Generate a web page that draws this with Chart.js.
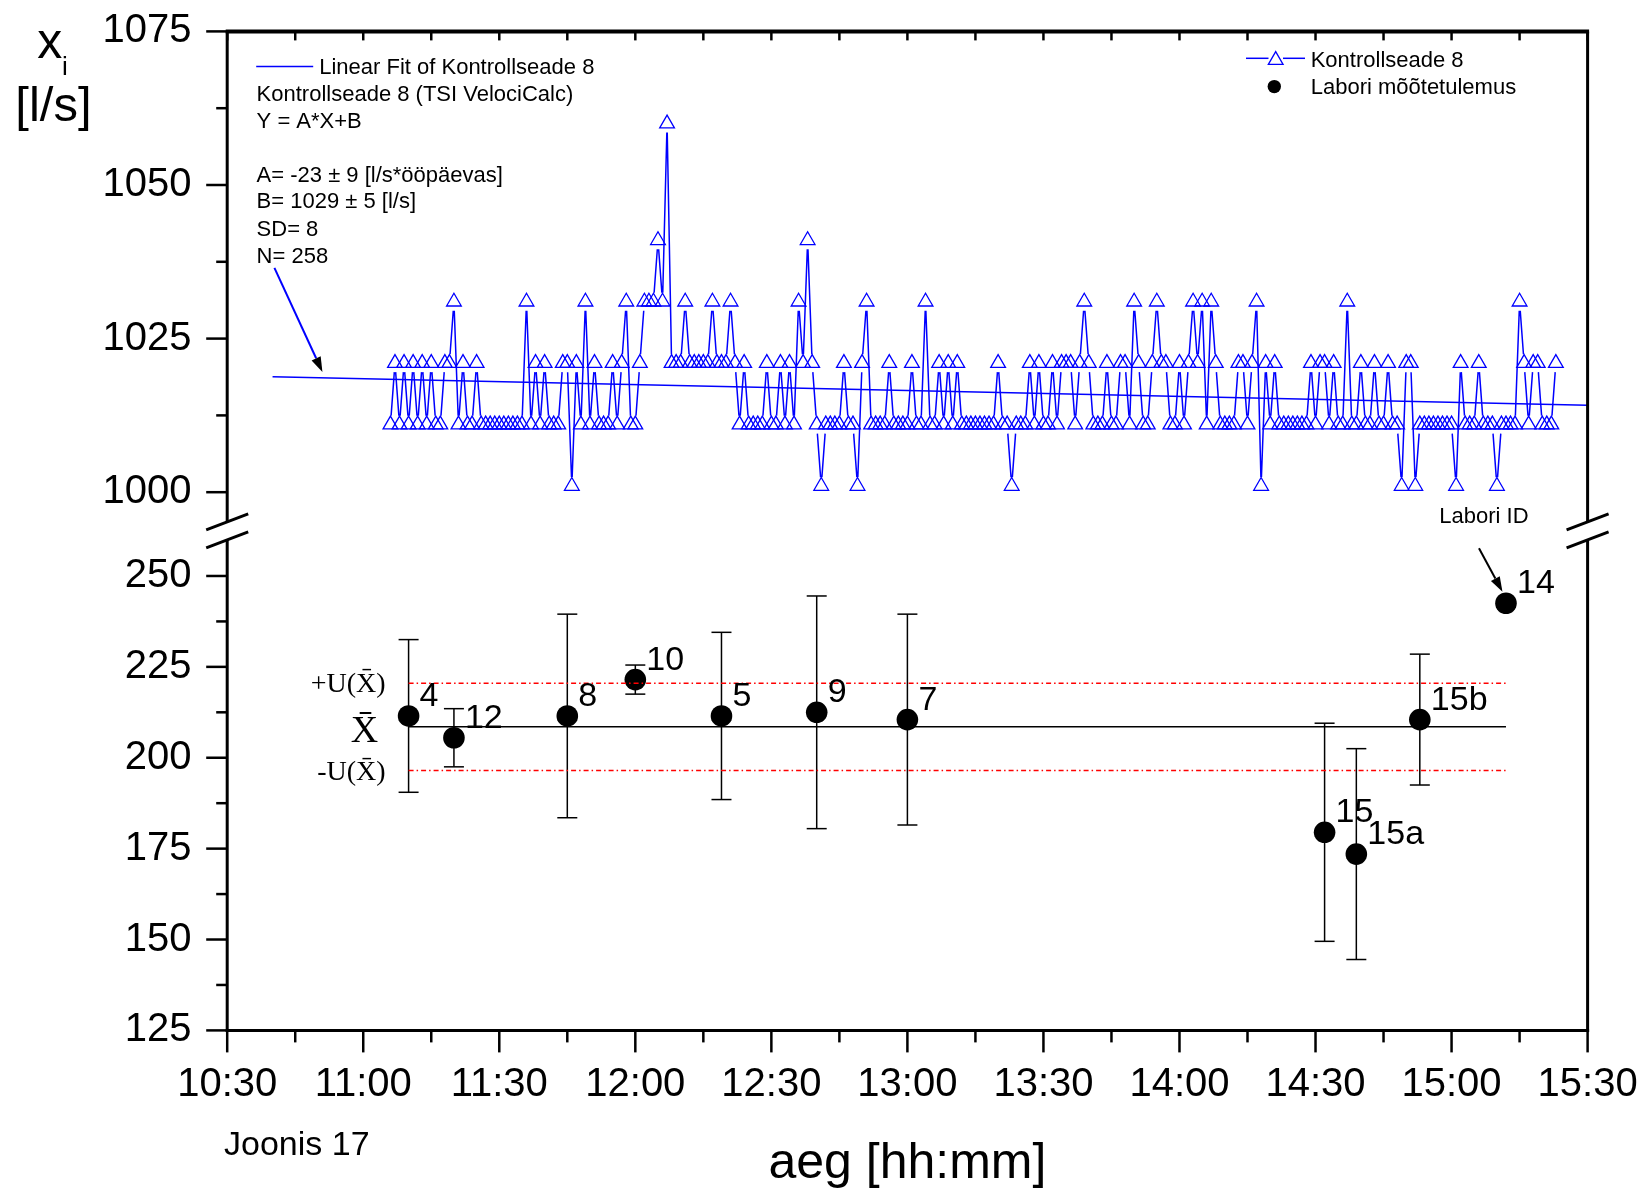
<!DOCTYPE html>
<html>
<head>
<meta charset="utf-8">
<script src="https://cdn.jsdelivr.net/npm/chart.js@4/dist/chart.umd.min.js"></script>
<style>
  html, body { margin: 0; padding: 0; background: #fff; }
  #wrap { width: 1642px; height: 1190px; }
</style>
</head>
<body>
<div id="wrap"><canvas id="chart" width="1642" height="1190"></canvas></div>
<script>
// Kontrollseade 8 (TSI VelociCalc), one reading per minute
const kontrollStart = '11:06';
const kontrollValues = [
  1011, 1021, 1011, 1021, 1011, 1021, 1011, 1021, 1011, 1021,
  1011, 1011, 1021, 1021, 1031, 1011, 1021, 1011, 1011, 1021,
  1011, 1011, 1011, 1011, 1011, 1011, 1011, 1011, 1011, 1011,
  1031, 1011, 1021, 1011, 1021, 1011, 1011, 1011, 1021, 1021,
  1001, 1021, 1011, 1031, 1011, 1021, 1011, 1011, 1011, 1021,
  1011, 1021, 1031, 1011, 1011, 1021, 1031, 1031, 1031, 1041,
  1031, 1060, 1021, 1021, 1021, 1031, 1021, 1021, 1021, 1021,
  1021, 1031, 1021, 1021, 1021, 1031, 1021, 1011, 1021, 1011,
  1011, 1011, 1011, 1021, 1011, 1011, 1021, 1011, 1021, 1011,
  1031, 1021, 1041, 1021, 1011, 1001, 1011, 1011, 1011, 1011,
  1021, 1011, 1011, 1001, 1021, 1031, 1011, 1011, 1011, 1011,
  1021, 1011, 1011, 1011, 1011, 1021, 1011, 1011, 1031, 1011,
  1011, 1021, 1011, 1021, 1011, 1021, 1011, 1011, 1011, 1011,
  1011, 1011, 1011, 1011, 1021, 1011, 1011, 1001, 1011, 1011,
  1011, 1021, 1011, 1021, 1011, 1011, 1021, 1011, 1021, 1021,
  1021, 1011, 1021, 1031, 1021, 1011, 1011, 1011, 1021, 1011,
  1011, 1021, 1021, 1011, 1031, 1021, 1011, 1011, 1021, 1031,
  1021, 1021, 1011, 1011, 1021, 1011, 1021, 1031, 1021, 1031,
  1011, 1031, 1021, 1011, 1011, 1011, 1011, 1021, 1021, 1011,
  1021, 1031, 1001, 1021, 1011, 1021, 1011, 1011, 1011, 1011,
  1011, 1011, 1011, 1021, 1011, 1021, 1021, 1011, 1021, 1011,
  1011, 1031, 1011, 1011, 1021, 1011, 1011, 1021, 1011, 1011,
  1021, 1011, 1011, 1001, 1021, 1021, 1001, 1011, 1011, 1011,
  1011, 1011, 1011, 1011, 1011, 1001, 1021, 1011, 1011, 1011,
  1021, 1011, 1011, 1011, 1001, 1011, 1011, 1011, 1011, 1031,
  1021, 1011, 1021, 1021, 1011, 1011, 1011, 1021
];

// linear fit Y = A*X + B, X in days
const fitA = -23;
const fitB = 1029;
const fitRange = ['10:40', '15:30'];

// laboratory results with expanded uncertainty
const labIds = ['4', '12', '8', '10', '5', '9', '7', '15', '15a', '15b', '14'];
const labTimes = ['11:10', '11:20', '11:45', '12:00', '12:19', '12:40', '13:00', '14:32', '14:39', '14:53', '15:12'];
const labValues = [211.5, 205.5, 211.5, 221.5, 211.5, 212.5, 210.5, 179.5, 173.5, 210.5, 242.5];
const labU = [21, 8, 28, 4, 23, 32, 29, 30, 29, 18, null];

// mean of the lab results and its uncertainty
const meanX = 208.5;
const meanU = 12;

const xTicks = ['10:30', '11:00', '11:30', '12:00', '12:30', '13:00', '13:30', '14:00', '14:30', '15:00', '15:30'];
const topTicks = [1000, 1025, 1050, 1075];
const bottomTicks = [125, 150, 175, 200, 225, 250];

const SANS = "'Liberation Sans', Arial, sans-serif";
const SERIF = "'Liberation Serif', 'Times New Roman', serif";
const BLUE = '#0000ff';
const GAP = 9;        // gap between symbol and connecting line
const CAP = 10;       // half width of error bar caps
const BREAK_GAP = 9;  // half height of the axis break

function toMin(t) {
  const [h, m] = t.split(':').map(Number);
  return h * 60 + m;
}

function fmtMin(v) {
  const h = Math.floor(v / 60);
  const m = Math.round(v - h * 60);
  return h + ':' + String(m).padStart(2, '0');
}

function withMinors(major) {
  const out = [];
  major.forEach((v, i) => {
    out.push(v);
    if (i < major.length - 1) out.push((v + major[i + 1]) / 2);
  });
  return out;
}

const kontrollData = kontrollValues.map((v, i) => ({ x: toMin(kontrollStart) + i, y: v }));
const fitData = fitRange.map(t => ({ x: toMin(t), y: fitB + fitA * toMin(t) / 1440 }));
const labData = labTimes.map((t, i) => ({ x: toMin(t), y: labValues[i] }));
const spanX = [toMin(labTimes[0]), toMin(labTimes[labTimes.length - 1])];
const meanData = spanX.map(x => ({ x: x, y: meanX }));
const upperData = spanX.map(x => ({ x: x, y: meanX + meanU }));
const lowerData = spanX.map(x => ({ x: x, y: meanX - meanU }));

function line(ctx, x1, y1, x2, y2) {
  ctx.beginPath();
  ctx.moveTo(x1, y1);
  ctx.lineTo(x2, y2);
  ctx.stroke();
}

function text(ctx, str, x, y, size, align, family) {
  ctx.font = size + 'px ' + (family || SANS);
  ctx.textAlign = align || 'left';
  ctx.textBaseline = 'alphabetic';
  ctx.fillText(str, x, y);
}

function arrow(ctx, x1, y1, x2, y2) {
  const ang = Math.atan2(y2 - y1, x2 - x1);
  const len = 15, half = 5;
  const bx = x2 - Math.cos(ang) * len, by = y2 - Math.sin(ang) * len;
  ctx.lineWidth = 2;
  line(ctx, x1, y1, bx, by);
  ctx.beginPath();
  ctx.moveTo(x2, y2);
  ctx.lineTo(bx + Math.sin(ang) * half, by - Math.cos(ang) * half);
  ctx.lineTo(bx - Math.sin(ang) * half, by + Math.cos(ang) * half);
  ctx.closePath();
  ctx.fill();
}

function triangle(ctx, x, y, r) {
  ctx.beginPath();
  ctx.moveTo(x, y - r);
  ctx.lineTo(x + r * 0.866, y + r / 2);
  ctx.lineTo(x - r * 0.866, y + r / 2);
  ctx.closePath();
  ctx.stroke();
}

// keep tick labels from pushing the plot area around
function noPadding(s) {
  s.paddingTop = 0;
  s.paddingBottom = 0;
  s.paddingLeft = 0;
  s.paddingRight = 0;
}

const decor = {
  id: 'decor',
  beforeDatasetsDraw(chart) {
    const ctx = chart.ctx;
    const sx = chart.scales.x, sb = chart.scales.yBot;
    ctx.save();

    // connecting line of the control device, broken around every symbol
    const pts = chart.getDatasetMeta(0).data;
    ctx.strokeStyle = BLUE;
    ctx.lineWidth = 1.5;
    ctx.beginPath();
    for (let i = 1; i < pts.length; i++) {
      const a = pts[i - 1], b = pts[i];
      const dx = b.x - a.x, dy = b.y - a.y;
      const len = Math.hypot(dx, dy);
      if (len <= 2 * GAP) continue;
      const ux = dx / len, uy = dy / len;
      ctx.moveTo(a.x + ux * GAP, a.y + uy * GAP);
      ctx.lineTo(b.x - ux * GAP, b.y - uy * GAP);
    }
    ctx.stroke();

    // error bars
    ctx.strokeStyle = '#000';
    ctx.lineWidth = 1.5;
    labTimes.forEach((t, i) => {
      if (labU[i] == null) return;
      const px = sx.getPixelForValue(toMin(t));
      const hi = sb.getPixelForValue(labValues[i] + labU[i]);
      const lo = sb.getPixelForValue(labValues[i] - labU[i]);
      line(ctx, px, hi, px, lo);
      line(ctx, px - CAP, hi, px + CAP, hi);
      line(ctx, px - CAP, lo, px + CAP, lo);
    });
    ctx.restore();
  },
  afterDraw(chart) {
    const ctx = chart.ctx;
    const a = chart.chartArea;
    const sx = chart.scales.x, st = chart.scales.yTop, sb = chart.scales.yBot;
    const brk = st.bottom;
    ctx.save();
    ctx.strokeStyle = '#000';
    ctx.fillStyle = '#000';
    ctx.lineCap = 'butt';

    // frame, interrupted at the axis break
    ctx.lineWidth = 3;
    [a.left, a.right].forEach(ax => {
      line(ctx, ax, a.top, ax, brk - BREAK_GAP);
      line(ctx, ax, brk + BREAK_GAP, ax, a.bottom + 1.5);
      [-BREAK_GAP, BREAK_GAP].forEach(dy => line(ctx, ax - 21, brk + dy + 8, ax + 21, brk + dy - 8));
    });
    line(ctx, a.left - 1.5, a.bottom, a.right + 1.5, a.bottom);
    ctx.lineWidth = 4;
    line(ctx, a.left - 1.5, a.top, a.right + 1.5, a.top);

    // y ticks
    ctx.lineWidth = 2.5;
    [[st, topTicks], [sb, bottomTicks]].forEach(([s, major]) => {
      withMinors(major).forEach((v, i) => {
        const py = s.getPixelForValue(v);
        line(ctx, a.left - (i % 2 ? 11 : 21), py, a.left, py);
      });
    });

    // x ticks below and on the top border
    withMinors(xTicks.map(toMin)).forEach((v, i) => {
      const px = sx.getPixelForValue(v);
      line(ctx, px, a.bottom, px, a.bottom + (i % 2 ? 12 : 22));
      line(ctx, px, a.top, px, a.top + 9);
    });

    // fit legend and statistics
    ctx.strokeStyle = BLUE;
    ctx.lineWidth = 1.5;
    line(ctx, a.left + 29, 66.5, a.left + 86, 66.5);
    const tl = a.left + 29.4;
    text(ctx, 'Linear Fit of Kontrollseade 8', a.left + 92, 74.2, 22);
    text(ctx, 'Kontrollseade 8 (TSI VelociCalc)', tl, 100.8, 22);
    text(ctx, 'Y = A*X+B', tl, 127.6, 22);
    text(ctx, 'A= ' + fitA + ' ± 9 [l/s*ööpäevas]', tl, 182.2, 22);
    text(ctx, 'B= ' + fitB + ' ± 5 [l/s]', tl, 207.6, 22);
    text(ctx, 'SD= 8', tl, 235.8, 22);
    text(ctx, 'N= ' + kontrollValues.length, tl, 262.6, 22);

    // arrow from the statistics to the fit line
    const ax = sx.getPixelForValue(toMin('10:51'));
    const fy = fitB + fitA * toMin('10:51') / 1440;
    const ay = st.getPixelForValue(fy) - 6;
    arrow(ctx, ax - 48, ay - 104, ax, ay);

    // series legend
    ctx.strokeStyle = BLUE;
    ctx.lineWidth = 1.5;
    line(ctx, 1246, 58.3, 1268.5, 58.3);
    line(ctx, 1283, 58.3, 1305, 58.3);
    ctx.lineWidth = 1.3;
    triangle(ctx, 1275.7, 60.1, 8.5);
    ctx.fillStyle = '#000';
    text(ctx, 'Kontrollseade 8', 1310.7, 66.8, 22);
    ctx.beginPath();
    ctx.arc(1274.3, 86.6, 6.7, 0, Math.PI * 2);
    ctx.fill();
    text(ctx, 'Labori mõõtetulemus', 1310.7, 93.6, 22);

    // lab ids beside the points
    labIds.forEach((id, i) => {
      const px = sx.getPixelForValue(toMin(labTimes[i]));
      const py = sb.getPixelForValue(labValues[i]);
      text(ctx, id, px + 11, py - 10, 34);
    });

    // pointer to the lab ids
    const last = labIds.length - 1;
    const lx = sx.getPixelForValue(toMin(labTimes[last]));
    const ly = sb.getPixelForValue(labValues[last]);
    text(ctx, 'Labori ID', lx - 22, ly - 80, 22, 'center');
    ctx.strokeStyle = '#000';
    arrow(ctx, lx - 27, ly - 55, lx - 3.5, ly - 11.5);

    // mean and uncertainty labels
    const ml = sx.getPixelForValue(spanX[0]) - 23;
    text(ctx, '+U(X\u0304)', ml, sb.getPixelForValue(meanX + meanU) + 8.4, 28, 'right', SERIF);
    text(ctx, 'X\u0304', ml - 21, sb.getPixelForValue(meanX) + 15.6, 38, 'center', SERIF);
    text(ctx, '-U(X\u0304)', ml, sb.getPixelForValue(meanX - meanU) + 9.3, 28, 'right', SERIF);

    // axis titles and caption
    text(ctx, 'x', 49.7, 57.6, 50, 'center');
    text(ctx, 'i', 62, 75.4, 26);
    text(ctx, '[l/s]', 53.4, 120.8, 49, 'center');
    text(ctx, 'aeg [hh:mm]', (a.left + a.right) / 2, 1178, 50, 'center');
    text(ctx, 'Joonis 17', 224, 1155, 34);
    ctx.restore();
  }
};

const yScale = (min, max, major, weight) => ({
  type: 'linear',
  position: 'left',
  stack: 'y',
  stackWeight: 1,
  weight: weight,
  min: min,
  max: max,
  afterBuildTicks: s => { s.ticks = withMinors(major).map(v => ({ value: v })); },
  afterFit: s => { s.width = 227.2; noPadding(s); },
  ticks: {
    autoSkip: false,
    padding: 14.6,
    color: '#000',
    font: { family: SANS, size: 40 },
    callback: v => (major.includes(v) ? String(v) : '')
  },
  grid: { display: true, drawOnChartArea: false, drawTicks: true, tickLength: 21, color: 'rgba(0,0,0,0)', tickColor: 'rgba(0,0,0,0)' },
  border: { display: false }
});

new Chart(document.getElementById('chart'), {
  type: 'line',
  data: {
    datasets: [
      {
        label: 'Kontrollseade 8',
        data: kontrollData,
        yAxisID: 'yTop',
        showLine: false,
        pointStyle: 'triangle',
        pointRadius: 8.5,
        pointBorderWidth: 1.3,
        pointBorderColor: BLUE,
        pointBackgroundColor: 'rgba(0,0,0,0)',
        borderColor: BLUE
      },
      {
        label: 'Linear Fit of Kontrollseade 8',
        data: fitData,
        yAxisID: 'yTop',
        borderColor: BLUE,
        borderWidth: 1.5,
        pointRadius: 0
      },
      {
        label: 'X',
        data: meanData,
        yAxisID: 'yBot',
        borderColor: '#000',
        borderWidth: 1.5,
        pointRadius: 0
      },
      {
        label: '+U',
        data: upperData,
        yAxisID: 'yBot',
        borderColor: '#ff0000',
        borderWidth: 1.5,
        borderDash: [5, 3, 1.5, 3],
        pointRadius: 0
      },
      {
        label: '-U',
        data: lowerData,
        yAxisID: 'yBot',
        borderColor: '#ff0000',
        borderWidth: 1.5,
        borderDash: [5, 3, 1.5, 3],
        pointRadius: 0
      },
      {
        label: 'Labori mõõtetulemus',
        data: labData,
        yAxisID: 'yBot',
        showLine: false,
        pointStyle: 'circle',
        pointRadius: 10.8,
        pointBorderWidth: 0,
        pointBackgroundColor: '#000',
        borderColor: '#000'
      }
    ]
  },
  options: {
    responsive: false,
    devicePixelRatio: 1,
    animation: false,
    layout: { padding: { top: 31.4, right: 54.4, bottom: 0, left: 0 } },
    plugins: {
      legend: { display: false },
      tooltip: { enabled: false }
    },
    scales: {
      x: {
        type: 'linear',
        min: toMin(xTicks[0]),
        max: toMin(xTicks[xTicks.length - 1]),
        afterBuildTicks: s => { s.ticks = xTicks.map(t => ({ value: toMin(t) })); },
        afterFit: s => { s.height = 1190 - 1030.4; noPadding(s); },
        ticks: {
          autoSkip: false,
          maxRotation: 0,
          padding: 8.6,
          color: '#000',
          font: { family: SANS, size: 40 },
          callback: v => fmtMin(v)
        },
        grid: { display: true, drawOnChartArea: false, drawTicks: true, tickLength: 22, color: 'rgba(0,0,0,0)', tickColor: 'rgba(0,0,0,0)' },
        border: { display: false }
      },
      yTop: yScale(993.7, 1075, topTicks, 1),
      yBot: yScale(125, 262.4, bottomTicks, 0)
    }
  },
  plugins: [decor]
});
</script>
</body>
</html>
